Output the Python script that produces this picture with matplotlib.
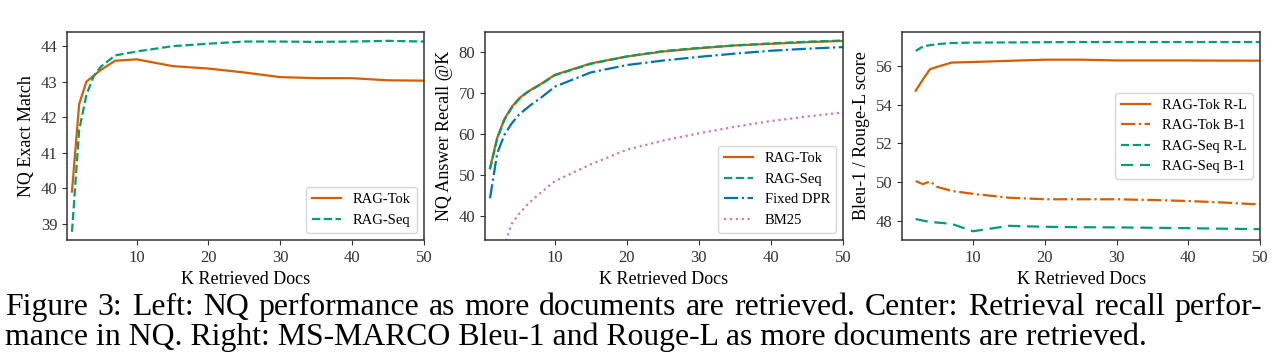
import matplotlib
matplotlib.use("Agg")
import matplotlib.pyplot as plt

plt.rcParams['font.family'] = ['Liberation Serif', 'DejaVu Serif']

ORANGE = '#d55e00'
GREEN = '#029e73'
BLUE = '#0173b2'
PINK = '#cc78bc'

# left: NQ exact match
k_left = [1, 2, 3, 4, 5, 7, 10, 15, 20, 25, 30, 35, 40, 45, 50]
em_tok = [39.91, 42.37, 43.0, 43.17, 43.33, 43.59, 43.63, 43.44, 43.37, 43.26, 43.13, 43.1, 43.1, 43.04, 43.03]
em_seq = [38.78, 41.64, 42.62, 43.15, 43.42, 43.74, 43.85, 44.0, 44.07, 44.13, 44.13, 44.12, 44.13, 44.15, 44.13]

# middle: answer recall @ K
k_mid = [1, 2, 3, 4, 5, 6, 7, 8, 10, 15, 20, 25, 30, 35, 40, 45, 50]
rec_tok = [51.7, 59.1, 63.7, 66.6, 68.7, 70.1, 71.2, 72.2, 74.5, 77.3, 79.0, 80.2, 81.0, 81.7, 82.1, 82.5, 82.8]
rec_seq = [51.4, 58.9, 63.5, 66.4, 68.5, 70.0, 71.1, 72.1, 74.4, 77.2, 79.0, 80.3, 81.1, 81.7, 82.2, 82.6, 82.9]
rec_dpr = [44.3, 55.3, 59.8, 62.6, 64.7, 66.2, 67.6, 68.8, 71.6, 75.1, 76.9, 78.0, 78.9, 79.7, 80.4, 80.9, 81.3]
rec_bm25 = [20.0, 27.0, 32.8, 38.0, 40.4, 42.4, 44.1, 45.6, 48.5, 52.6, 56.2, 58.4, 60.2, 61.8, 63.2, 64.3, 65.3]

# right: MS-MARCO
k_right = [2, 3, 4, 5, 7, 10, 15, 20, 25, 30, 35, 40, 45, 50]
tok_rl = [54.72, 55.3, 55.83, 55.95, 56.17, 56.2, 56.26, 56.32, 56.32, 56.28, 56.28, 56.28, 56.27, 56.27]
tok_b1 = [50.06, 49.9, 50.04, 49.76, 49.55, 49.4, 49.2, 49.12, 49.12, 49.12, 49.08, 49.03, 48.95, 48.85]
seq_rl = [56.77, 57.0, 57.07, 57.12, 57.18, 57.2, 57.21, 57.22, 57.23, 57.23, 57.23, 57.23, 57.23, 57.23]
seq_b1 = [48.1, 48.02, 47.95, 47.92, 47.85, 47.47, 47.75, 47.7, 47.68, 47.67, 47.65, 47.63, 47.6, 47.58]

caption1 = 'Figure 3: Left: NQ performance as more documents are retrieved. Center: Retrieval recall perfor-'
caption2 = 'mance in NQ. Right: MS-MARCO Bleu-1 and Rouge-L as more documents are retrieved.'

fig = plt.figure(figsize=(12.85, 3.55), dpi=100)
ax1 = fig.add_axes([0.0521, 0.324, 0.2778, 0.586])
ax2 = fig.add_axes([0.3774, 0.324, 0.2786, 0.586])
ax3 = fig.add_axes([0.7020, 0.324, 0.2786, 0.586])

lw = 1.6
ax1.plot(k_left, em_tok, color=ORANGE, lw=lw, label='RAG-Tok')
ax1.plot(k_left, em_seq, color=GREEN, lw=lw, ls='--', label='RAG-Seq')
ax1.set_xlim(0.3, 50)
ax1.set_ylim(38.55, 44.4)
ax1.set_ylabel('NQ Exact Match')

ax2.plot(k_mid, rec_tok, color=ORANGE, lw=lw, label='RAG-Tok')
ax2.plot(k_mid, rec_seq, color=GREEN, lw=lw, ls='--', label='RAG-Seq')
ax2.plot(k_mid, rec_dpr, color=BLUE, lw=lw, ls='-.', label='Fixed DPR')
ax2.plot(k_mid, rec_bm25, color=PINK, lw=lw, ls=':', label='BM25')
ax2.set_xlim(0.3, 50)
ax2.set_ylim(34.1, 85)
ax2.set_yticks([40, 50, 60, 70, 80])
ax2.set_ylabel('NQ Answer Recall @K')

ax3.plot(k_right, tok_rl, color=ORANGE, lw=lw, label='RAG-Tok R-L')
ax3.plot(k_right, tok_b1, color=ORANGE, lw=lw, ls='-.', label='RAG-Tok B-1')
ax3.plot(k_right, seq_rl, color=GREEN, lw=lw, ls='--', label='RAG-Seq R-L')
ax3.plot(k_right, seq_b1, color=GREEN, lw=lw, ls=(0, (5.5, 3)), label='RAG-Seq B-1')
ax3.set_xlim(0.1, 50)
ax3.set_ylim(47.02, 57.75)
ax3.set_yticks([48, 50, 52, 54, 56])
ax3.set_ylabel('Bleu-1 / Rouge-L score')

for ax in (ax1, ax2, ax3):
    ax.set_xticks([10, 20, 30, 40, 50])
    ax.set_xlabel('K Retrieved Docs', fontsize=13)
    ax.yaxis.label.set_size(13)
    ax.tick_params(labelsize=12, colors='#333333', labelcolor='#333333')
    for s in ax.spines.values():
        s.set_color('#333333')
        s.set_linewidth(1.1)

ax1.legend(loc='lower right', fontsize=10.5)
ax2.legend(loc='lower right', fontsize=10.5)
ax3.legend(loc='center right', fontsize=10.5)

# caption: first line justified to the full width, second line left aligned
cap_size = 22.9
x0, x1 = 5 / 1285, 1262 / 1285
fig.canvas.draw()
renderer = fig.canvas.get_renderer()
words = caption1.split(' ')
texts = [fig.text(0, 0.113, w, fontsize=cap_size, ha='left', va='baseline') for w in words]
widths = [t.get_window_extent(renderer).width / fig.bbox.width for t in texts]
gap = (x1 - x0 - sum(widths)) / (len(words) - 1)
pos = x0
for t, w in zip(texts, widths):
    t.set_x(pos)
    pos += w + gap
fig.text(x0, 0.028, caption2, fontsize=cap_size, ha='left', va='baseline')

fig.savefig('out.png', dpi=100)
